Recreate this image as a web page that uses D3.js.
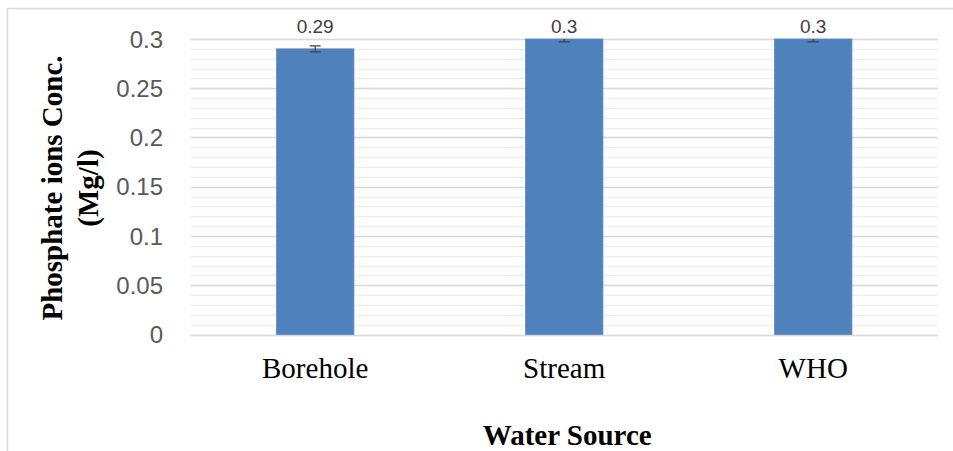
<!DOCTYPE html>
<html><head><meta charset="utf-8">
<script src="https://cdn.jsdelivr.net/npm/d3@7"></script>
<style>body{margin:0;background:#fff}</style>
</head><body>
<svg id="c" width="953" height="451"></svg>
<script>
const categories = ["Borehole", "Stream", "WHO"];
const values = [0.29, 0.30, 0.30];
const errors = [0.003, 0.003, 0.003];
const valueLabels = ["0.29", "0.3", "0.3"];
const yTicks = [0, 0.05, 0.1, 0.15, 0.2, 0.25, 0.3];
const yTickLabels = ["0", "0.05", "0.1", "0.15", "0.2", "0.25", "0.3"];
const yTitleLines = ["Phosphate ions Conc.", "(Mg/l)"];
const xTitle = "Water Source";

(function () {
const svg = d3.select("#c");
const pLeft = 190.7, pRight = 937.7, pTop = 39, pBottom = 334.5;

svg.append("rect").attr("x", 7.5).attr("y", 8.5).attr("width", 1000).attr("height", 1000)
  .attr("fill", "none").attr("stroke", "#d9d9d9").attr("stroke-width", 1.5);

const y = d3.scaleLinear().domain([0, 0.3]).range([pBottom, pTop]);
const x = d3.scaleBand().domain(categories).range([pLeft, pRight]).padding(0);
const bw = x.bandwidth() * 0.311;

// minor gridlines
svg.append("g").selectAll("line").data(y.ticks(30)).join("line")
  .attr("x1", pLeft).attr("x2", pRight)
  .attr("y1", d => Math.round(y(d)) + 0.5).attr("y2", d => Math.round(y(d)) + 0.5)
  .attr("stroke", "#eeeeee").attr("stroke-width", 1.5);
// major gridlines
svg.append("g").selectAll("line").data(yTicks).join("line")
  .attr("x1", pLeft).attr("x2", pRight)
  .attr("y1", d => Math.round(y(d)) + 0.5).attr("y2", d => Math.round(y(d)) + 0.5)
  .attr("stroke", "#d9d9d9").attr("stroke-width", 1.5);

// y tick labels
svg.append("g").selectAll("text").data(yTicks).join("text")
  .attr("x", 163).attr("y", d => y(d)).attr("dy", "0.36em")
  .attr("text-anchor", "end")
  .attr("font-family", "'Liberation Sans', Arial, sans-serif").attr("font-size", 24)
  .attr("fill", "#595959")
  .text((d, i) => yTickLabels[i]);

const data = categories.map((c, i) => ({c, v: values[i], e: errors[i], l: valueLabels[i]}));

// bars
svg.append("g").selectAll("rect").data(data).join("rect")
  .attr("x", d => x(d.c) + x.bandwidth() / 2 - bw / 2)
  .attr("width", bw)
  .attr("y", d => y(d.v)).attr("height", d => y(0) - y(d.v))
  .attr("fill", "#4f81bd").attr("stroke", "#5b8cc7").attr("stroke-width", 0.8);

// error bars (clipped to plot area)
svg.append("clipPath").attr("id", "pc").append("rect")
  .attr("x", pLeft).attr("y", pTop).attr("width", pRight - pLeft).attr("height", pBottom - pTop);
const eg = svg.append("g").attr("clip-path", "url(#pc)");
const cap = 5.5;
data.forEach(d => {
  const cx = x(d.c) + x.bandwidth() / 2;
  eg.append("line").attr("x1", cx).attr("x2", cx).attr("y1", y(d.v + d.e)).attr("y2", y(d.v - d.e))
    .attr("stroke", "#404040").attr("stroke-width", 1.2);
  [d.v + d.e, d.v - d.e].forEach(t => {
    eg.append("line").attr("x1", cx - cap).attr("x2", cx + cap).attr("y1", y(t)).attr("y2", y(t))
      .attr("stroke", "#404040").attr("stroke-width", 1.2);
  });
});

// value labels
svg.append("g").selectAll("text").data(data).join("text")
  .attr("x", d => x(d.c) + x.bandwidth() / 2)
  .attr("y", d => Math.max(y(d.v + d.e) - 13, pTop - 6))
  .attr("text-anchor", "middle")
  .attr("font-family", "'Liberation Sans', Arial, sans-serif").attr("font-size", 19)
  .attr("fill", "#404040")
  .text(d => d.l);

// x category labels
svg.append("g").selectAll("text").data(categories).join("text")
  .attr("x", d => x(d) + x.bandwidth() / 2).attr("y", 378)
  .attr("text-anchor", "middle")
  .attr("font-family", "'Liberation Serif', 'Times New Roman', serif").attr("font-size", 29)
  .attr("fill", "#000")
  .text(d => d);

// x title
svg.append("text").attr("x", (pLeft + pRight) / 2 + 3).attr("y", 445)
  .attr("text-anchor", "middle")
  .attr("font-family", "'Liberation Serif', 'Times New Roman', serif").attr("font-size", 29)
  .attr("font-weight", "bold").attr("fill", "#000")
  .text(xTitle);

// y title
const yt = svg.append("text").attr("transform", "translate(0,188) rotate(-90)")
  .attr("text-anchor", "middle")
  .attr("font-family", "'Liberation Serif', 'Times New Roman', serif").attr("font-size", 29)
  .attr("font-weight", "bold").attr("fill", "#000");
yt.selectAll("tspan").data(yTitleLines).join("tspan")
  .attr("x", 0).attr("y", (d, i) => 62 + i * 36)
  .text(d => d);
})();
</script>
</body></html>
